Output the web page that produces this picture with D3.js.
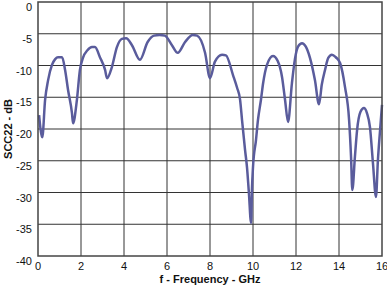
<!DOCTYPE html>
<html>
<head>
<meta charset="utf-8">
<script src="https://cdn.jsdelivr.net/npm/d3@7"></script>
<style>
  body { margin: 0; background: #fff; }
  svg { display: block; font-family: "Liberation Sans", Arial, sans-serif; }
  .tick_label { font-size: 11px; fill: #111; }
  .axis_title { font-size: 11px; font-weight: bold; fill: #111; }
</style>
</head>
<body>
<svg id="chart" width="387" height="286"></svg>
<script>
// DATA
var freq = [0.05, 0.2, 0.33, 0.47, 0.65, 0.8, 0.93, 1.12, 1.26, 1.4, 1.58, 1.63, 1.81, 1.95, 2.09, 2.3, 2.51, 2.65, 2.88, 3.12,
  3.21, 3.44, 3.67, 3.9, 4.1, 4.37, 4.74, 5.1, 5.4, 5.65, 5.9, 6.23, 6.5, 6.84, 7.2, 7.4, 7.77, 8.0, 8.23, 8.56,
  8.74, 9.07, 9.26, 9.4, 9.49, 9.63, 9.72, 9.81, 9.91, 9.95, 10.0, 10.14, 10.23, 10.37, 10.47, 10.65, 10.93, 11.15, 11.35, 11.49,
  11.63, 11.81, 11.95, 12.1, 12.28, 12.45, 12.65, 12.88, 13.07, 13.2, 13.35, 13.5, 13.67, 13.85, 14.05, 14.28, 14.47, 14.56, 14.62, 14.74,
  14.84, 15.0, 15.16, 15.3, 15.44, 15.58, 15.72, 15.81, 15.91, 16.0];
var scc22 = [-17.8, -21.3, -15.4, -12.3, -9.9, -9.0, -8.7, -8.7, -10.7, -13.9, -17.5, -19.1, -15.4, -10.7, -8.8, -7.6, -7.1, -7.1, -8.7, -10.7,
  -12.0, -10.2, -7.1, -5.8, -5.7, -6.8, -9.1, -6.3, -5.3, -5.2, -5.3, -6.8, -8.0, -6.3, -5.2, -5.3, -8.0, -12.0, -9.4, -8.3,
  -8.4, -11.5, -13.5, -15.4, -18.6, -23.3, -26.0, -30.1, -34.8, -29.6, -26.0, -21.7, -18.6, -15.4, -12.8, -9.9, -8.5, -9.3, -11.8, -15.4,
  -18.9, -12.8, -9.0, -7.0, -6.5, -7.0, -8.8, -12.3, -16.1, -13.0, -10.7, -8.8, -8.3, -8.7, -9.6, -13.4, -18.6, -24.4, -29.6, -24.4,
  -20.2, -17.3, -16.7, -17.5, -19.7, -25.4, -30.7, -24.9, -20.2, -16.2];

var x_ticks = [0, 2, 4, 6, 8, 10, 12, 14, 16];
var y_ticks = [0, -5, -10, -15, -20, -25, -30, -35, -40];

var x_title = "f - Frequency - GHz";
var y_title = "SCC22 - dB";

// SVG
var svg = d3.select("#chart");

// plot area
var plot_left = 38;
var plot_right = 382;
var plot_top = 2;
var plot_bottom = 256;

const xScale = d3.scaleLinear().domain([0, 16]).range([plot_left, plot_right]);
const yScale = d3.scaleLinear().domain([-40, 0]).range([plot_bottom, plot_top]);

// grid lines
svg.selectAll("line.vgrid")
  .data(x_ticks.slice(1, -1))
  .enter().append("line")
  .attr("class", "vgrid")
  .attr("x1", d => xScale(d)).attr("x2", d => xScale(d))
  .attr("y1", plot_top).attr("y2", plot_bottom)
  .attr("stroke", "#333").attr("stroke-width", 1);

svg.selectAll("line.hgrid")
  .data(y_ticks.slice(1, -1))
  .enter().append("line")
  .attr("class", "hgrid")
  .attr("x1", plot_left).attr("x2", plot_right)
  .attr("y1", d => yScale(d)).attr("y2", d => yScale(d))
  .attr("stroke", "#333").attr("stroke-width", 1);

// curve
var points = freq.map((f, i) => [f, scc22[i]]);
var line = d3.line()
  .x(d => xScale(d[0]))
  .y(d => yScale(d[1]))
  .curve(d3.curveMonotoneX);

svg.append("path")
  .datum(points)
  .attr("d", line)
  .attr("fill", "none")
  .attr("stroke", "#5a5c9c")
  .attr("stroke-width", 2.5)
  .attr("stroke-linejoin", "round");

// frame
svg.append("rect")
  .attr("x", plot_left).attr("y", plot_top)
  .attr("width", plot_right - plot_left).attr("height", plot_bottom - plot_top)
  .attr("fill", "none").attr("stroke", "#444").attr("stroke-width", 1.5);

// tick labels
svg.selectAll("text.xtick")
  .data(x_ticks)
  .enter().append("text")
  .attr("class", "tick_label")
  .attr("x", d => xScale(d))
  .attr("y", 270)
  .attr("text-anchor", "middle")
  .text(d => d);

svg.selectAll("text.ytick")
  .data(y_ticks)
  .enter().append("text")
  .attr("class", "tick_label")
  .attr("x", 32)
  .attr("y", d => yScale(d) + 9)
  .attr("text-anchor", "end")
  .text(d => d);

// axis titles
svg.append("text")
  .attr("class", "axis_title")
  .attr("x", (plot_left + plot_right) / 2)
  .attr("y", 283)
  .attr("text-anchor", "middle")
  .text(x_title);

svg.append("text")
  .attr("class", "axis_title")
  .attr("transform", "translate(12," + ((plot_top + plot_bottom) / 2) + ") rotate(-90)")
  .attr("text-anchor", "middle")
  .text(y_title);
</script>
</body>
</html>
